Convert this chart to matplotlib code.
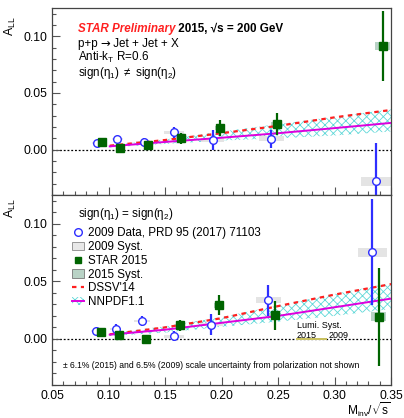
import matplotlib
matplotlib.use("Agg")
import matplotlib.pyplot as plt
from matplotlib.patches import Rectangle, Patch
from matplotlib.lines import Line2D
from matplotlib.ticker import MultipleLocator

plt.rcParams['font.family'] = ['Liberation Sans', 'DejaVu Sans']
plt.rcParams['mathtext.fontset'] = 'custom'
plt.rcParams['mathtext.rm'] = 'Liberation Sans'
plt.rcParams['mathtext.it'] = 'Liberation Sans:italic'
plt.rcParams['hatch.linewidth'] = 0.6

# ---- data: sign(eta1) != sign(eta2) (top) ----
top_x09 = [0.0896, 0.1078, 0.1314, 0.1580, 0.1920, 0.2438, 0.3365]
top_y09 = [0.0059, 0.0094, 0.0068, 0.0152, 0.0085, 0.0094, -0.0280]
top_e09 = [0.0030, 0.0030, 0.0035, 0.0050, 0.0085, 0.0080, 0.0340]
top_sy09 = [0.0010, 0.0010, 0.0012, 0.0015, 0.0015, 0.0022, 0.0040]

top_x15 = [0.0940, 0.1102, 0.1347, 0.1639, 0.1987, 0.2486, 0.3427]
top_y15 = [0.0064, 0.0018, 0.0038, 0.0099, 0.0190, 0.0225, 0.0915]
top_e15 = [0.0040, 0.0030, 0.0030, 0.0050, 0.0070, 0.0100, 0.0310]
top_sy15 = [0.0010, 0.0010, 0.0010, 0.0015, 0.0020, 0.0020, 0.0035]

# ---- data: sign(eta1) == sign(eta2) (bottom) ----
bot_x09 = [0.0887, 0.1064, 0.1299, 0.1580, 0.1910, 0.2415, 0.3334]
bot_y09 = [0.0067, 0.0088, 0.0155, 0.0023, 0.0125, 0.0336, 0.0754]
bot_e09 = [0.0030, 0.0040, 0.0040, 0.0045, 0.0092, 0.0136, 0.0460]
bot_sy09 = [0.0010, 0.0010, 0.0012, 0.0012, 0.0015, 0.0025, 0.0040]

bot_x15 = [0.0936, 0.1096, 0.1332, 0.1636, 0.1975, 0.2470, 0.3390]
bot_y15 = [0.0061, 0.0038, 0.0000, 0.0117, 0.0292, 0.0204, 0.0193]
bot_e15 = [0.0030, 0.0030, 0.0030, 0.0050, 0.0088, 0.0127, 0.0427]
bot_sy15 = [0.0010, 0.0010, 0.0010, 0.0015, 0.0020, 0.0020, 0.0037]

# systematic box half widths (in M/sqrt(s))
sx09 = [0.004, 0.005, 0.007, 0.009, 0.010, 0.011, 0.013]
sx15 = [0.003, 0.003, 0.0035, 0.004, 0.0045, 0.005, 0.0065]

# ---- theory ----
th_x = [0.101, 0.15, 0.20, 0.25, 0.30, 0.35]
top_dssv = [0.0035, 0.0085, 0.0145, 0.0210, 0.0285, 0.0350]
top_nnpdf = [0.0029, 0.0068, 0.0105, 0.0145, 0.0190, 0.0236]
top_nn_hi = [0.0040, 0.0090, 0.0160, 0.0225, 0.0290, 0.0355]
top_nn_lo = [0.0020, 0.0050, 0.0080, 0.0100, 0.0125, 0.0160]

bot_dssv = [0.0040, 0.0100, 0.0180, 0.0285, 0.0385, 0.0476]
bot_nnpdf = [0.0037, 0.0080, 0.0140, 0.0200, 0.0275, 0.0350]
bot_nn_hi = [0.0050, 0.0110, 0.0190, 0.0290, 0.0390, 0.0485]
bot_nn_lo = [0.0025, 0.0055, 0.0105, 0.0150, 0.0200, 0.0260]

blue = '#2e2eff'
green = '#006400'
red = '#ff2020'
magenta = '#dd00dd'
cyan = '#5fd8d8'
fs = 8.4


def draw_panel(ax, x09, y09, e09, sy09, x15, y15, e15, sy15, dssv, nn, nn_hi, nn_lo):
    ax.axhline(0, color='black', lw=0.9, ls=(0, (1.5, 1.5)), zorder=1)
    ax.fill_between(th_x, nn_lo, nn_hi, facecolor='none', edgecolor=cyan,
                    hatch='xxxx', lw=0, zorder=2)
    ax.plot(th_x, dssv, color=red, lw=1.6, ls=(0, (2, 2)), zorder=3)
    ax.plot(th_x, nn, color=magenta, lw=1.4, zorder=3)
    for x, y, sx, sy in zip(x09, y09, sx09, sy09):
        ax.add_patch(Rectangle((x - sx, y - sy), 2 * sx, 2 * sy, facecolor='#e4e4e4',
                               edgecolor='none', zorder=2.5))
    for x, y, sx, sy in zip(x15, y15, sx15, sy15):
        ax.add_patch(Rectangle((x - sx, y - sy), 2 * sx, 2 * sy, facecolor='#b9d3c6',
                               edgecolor='none', zorder=2.5))
    ax.errorbar(x09, y09, yerr=e09, fmt='o', color=blue, mfc='white', mec=blue,
                ms=5.5, mew=1, elinewidth=1.6, capsize=0, zorder=4)
    ax.errorbar(x15, y15, yerr=e15, fmt='s', color=green, mfc=green, mec=green,
                ms=5.5, elinewidth=1.6, capsize=0, zorder=5)
    ax.set_xlim(0.05, 0.35)
    ax.set_ylim(-0.04, 0.125)
    ax.xaxis.set_major_locator(MultipleLocator(0.05))
    ax.xaxis.set_minor_locator(MultipleLocator(0.01))
    ax.yaxis.set_major_locator(MultipleLocator(0.05))
    ax.yaxis.set_minor_locator(MultipleLocator(0.01))
    ax.tick_params(which='both', direction='in', top=False, right=False,
                   color='#555555', labelsize=8.8)
    ax.tick_params(which='major', length=6, width=0.8)
    ax.tick_params(which='minor', length=3, width=0.8)
    ax.yaxis.set_major_formatter(plt.FuncFormatter(lambda v, p: f'{v:.2f}'))
    ax.xaxis.set_major_formatter(plt.FuncFormatter(lambda v, p: f'{v:.2f}'))
    for s in ax.spines.values():
        s.set_color('#444444')
        s.set_linewidth(0.9)


fig = plt.figure(figsize=(4.04, 4.18), dpi=100)
ax1 = fig.add_axes([0.129, 0.5335, 0.839, 0.4475])
ax2 = fig.add_axes([0.129, 0.079, 0.839, 0.4545], sharex=ax1)

draw_panel(ax1, top_x09, top_y09, top_e09, top_sy09, top_x15, top_y15, top_e15, top_sy15,
           top_dssv, top_nnpdf, top_nn_hi, top_nn_lo)
draw_panel(ax2, bot_x09, bot_y09, bot_e09, bot_sy09, bot_x15, bot_y15, bot_e15, bot_sy15,
           bot_dssv, bot_nnpdf, bot_nn_hi, bot_nn_lo)
ax1.tick_params(labelbottom=False)

ax1.set_ylabel(r'A$_{\mathrm{LL}}$', fontsize=8.8, loc='top')
ax1.yaxis.set_label_coords(-0.102, 0.955)
ax2.set_ylabel(r'A$_{\mathrm{LL}}$', fontsize=8.8, loc='top')
ax2.yaxis.set_label_coords(-0.102, 0.98)
ax2.set_xlabel(r'M$_{\mathrm{inv}}$/$\sqrt{\mathrm{s}}$', fontsize=8.6, loc='right')
ax2.xaxis.set_label_coords(1.0, -0.08)
ax2.xaxis.label.set_va('top')

# top panel annotations
t1 = ax1.text(0.075, 0.872, 'STAR Preliminary', transform=ax1.transAxes, color=red,
              fontsize=fs, fontweight='bold', fontstyle='italic', va='baseline')
ax1.annotate(' 2015, \u221as = 200 GeV', xy=(1, 0), xycoords=t1, fontsize=fs,
             fontweight='bold', va='bottom')
t2 = ax1.text(0.075, 0.791, 'p+p ', transform=ax1.transAxes, fontsize=fs)
t3 = ax1.annotate('\u2192', xy=(1, 0), xycoords=t2, fontsize=fs, va='bottom',
                  family='DejaVu Sans')
ax1.annotate(' Jet + Jet + X', xy=(1, 0), xycoords=t3, fontsize=fs, va='bottom')
ax1.text(0.075, 0.715, r'Anti-k$_{\mathrm{T}}$ R=0.6', transform=ax1.transAxes, fontsize=fs)
ax1.text(0.075, 0.635, r'sign($\mathrm{\eta_1}$) $\mathrm{\neq}$ sign($\mathrm{\eta_2}$)',
         transform=ax1.transAxes, fontsize=fs)

# bottom panel legend
ax2.text(0.075, 0.885, r'sign($\mathrm{\eta_1}$) = sign($\mathrm{\eta_2}$)',
         transform=ax2.transAxes, fontsize=fs)
handles = [
    Line2D([], [], marker='o', ls='none', mfc='white', mec=blue, ms=5.5),
    Patch(facecolor='#e8e8e8', edgecolor='#888888', lw=0.6),
    Line2D([], [], marker='s', ls='none', color=green, ms=4.5),
    Patch(facecolor='#b9d3c6', edgecolor='#777777', lw=0.6),
    Line2D([], [], color=red, lw=1.6, ls=(0, (2, 2))),
    (Patch(facecolor='none', edgecolor=cyan, hatch='xxxx', lw=0),
     Line2D([], [], color=magenta, lw=1.4)),
]
labels = ['2009 Data, PRD 95 (2017) 71103', '2009 Syst.', 'STAR 2015', '2015 Syst.',
          "DSSV'14", 'NNPDF1.1']
ax2.legend(handles, labels, loc='upper left', bbox_to_anchor=(0.059, 0.83), frameon=False,
           fontsize=fs, handlelength=1.0, handleheight=0.8, handletextpad=0.35,
           labelspacing=0.15, borderaxespad=0, borderpad=0)

# luminosity systematics
ax2.add_patch(Rectangle((0.266, -0.0006), 0.027, 0.0012, facecolor='#c8c060',
                        edgecolor='none', zorder=2))
ax2.text(0.267, 0.0095, 'Lumi. Syst.', fontsize=6.5)
ax2.text(0.266, 0.0012, '2015', fontsize=6.5)
ax2.text(0.295, 0.0012, '2009', fontsize=6.5)

ax2.text(0.032, 0.088, '\u00b1 6.1% (2015) and 6.5% (2009) scale uncertainty from '
         'polarization not shown', transform=ax2.transAxes, fontsize=6.2)

fig.savefig('out.png', dpi=100)
